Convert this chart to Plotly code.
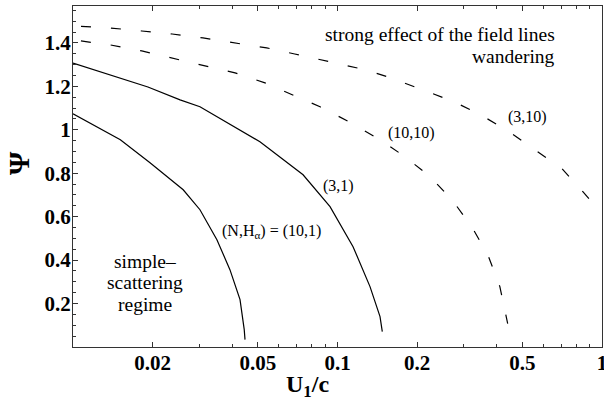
import plotly.graph_objects as go

# ---- data ----
x_10_1 = [0.01, 0.0151, 0.01955, 0.0261, 0.0302, 0.0350, 0.0392, 0.0428, 0.0444, 0.0447]
y_10_1 = [1.074, 0.954, 0.848, 0.724, 0.632, 0.494, 0.356, 0.218, 0.080, 0.034]

x_3_1 = [0.01, 0.0192, 0.0254, 0.0302, 0.0509, 0.0741, 0.0937, 0.1145, 0.1327, 0.1448, 0.1477]
y_3_1 = [1.307, 1.197, 1.138, 1.106, 0.945, 0.793, 0.646, 0.462, 0.278, 0.140, 0.071]

x_10_10 = [0.01, 0.0138, 0.0182, 0.0237, 0.031, 0.041, 0.0532, 0.0679, 0.0859, 0.111,
           0.1448, 0.180, 0.224, 0.271, 0.322, 0.370, 0.411, 0.440]
y_10_10 = [1.414, 1.391, 1.363, 1.331, 1.299, 1.262, 1.216, 1.161, 1.106, 1.036,
           0.954, 0.876, 0.784, 0.678, 0.553, 0.425, 0.278, 0.108]

x_3_10 = [0.01, 0.0138, 0.0182, 0.0237, 0.031, 0.041, 0.054, 0.0689, 0.128, 0.159,
          0.209, 0.271, 0.343, 0.441, 0.558, 0.706, 0.848, 1.0]
y_3_10 = [1.478, 1.469, 1.455, 1.441, 1.423, 1.400, 1.377, 1.349, 1.276, 1.239,
          1.184, 1.133, 1.073, 0.995, 0.908, 0.821, 0.714, 0.613]

x_tick_vals = [0.02, 0.05, 0.1, 0.2, 0.5, 1]
x_tick_text = ["0.02", "0.05", "0.1", "0.2", "0.5", "1"]
x_minor_vals = [0.01, 0.03, 0.04, 0.06, 0.07, 0.08, 0.09, 0.3, 0.4, 0.6, 0.7, 0.8, 0.9]
y_tick_vals = [0.2, 0.4, 0.6, 0.8, 1.0, 1.2, 1.4]
y_tick_text = ["0.2", "0.4", "0.6", "0.8", "1", "1.2", "1.4"]
y_minor_vals = [0.05, 0.1, 0.15, 0.25, 0.3, 0.35, 0.45, 0.5, 0.55, 0.65, 0.7, 0.75,
                0.85, 0.9, 0.95, 1.05, 1.1, 1.15, 1.25, 1.3, 1.35, 1.45, 1.5, 1.55]

SERIF = "Liberation Serif"
DASH = "0px,8px,10px,12px"

fig = go.Figure()
line_solid = dict(color="black", width=1.2)
line_dash = dict(color="black", width=1.2, dash=DASH)
fig.add_trace(go.Scatter(x=x_10_1, y=y_10_1, mode="lines", line=line_solid, showlegend=False))
fig.add_trace(go.Scatter(x=x_3_1, y=y_3_1, mode="lines", line=line_solid, showlegend=False))
fig.add_trace(go.Scatter(x=x_10_10, y=y_10_10, mode="lines", line=line_dash, showlegend=False))
fig.add_trace(go.Scatter(x=x_3_10, y=y_3_10, mode="lines", line=line_dash, showlegend=False))

fig.update_xaxes(
    type="log", range=[-2, 0], automargin=False,
    tickmode="array", tickvals=x_tick_vals, ticktext=x_tick_text,
    ticks="inside", ticklen=5, tickwidth=1, tickcolor="#333",
    minor=dict(tickmode="array", tickvals=x_minor_vals, ticks="inside", ticklen=3,
               tickcolor="#333", showgrid=False),
    showline=True, linecolor="#333", linewidth=1, mirror="ticks",
    showgrid=False, zeroline=False, ticklabelstandoff=-3,
    ticklabeloverflow="allow",
    tickfont=dict(family=SERIF, size=21, color="black", weight="bold"),
)
fig.update_yaxes(
    range=[0, 1.57], automargin=False,
    tickmode="array", tickvals=y_tick_vals, ticktext=y_tick_text,
    ticks="inside", ticklen=5, tickwidth=1, tickcolor="#333",
    minor=dict(tickmode="array", tickvals=y_minor_vals, ticks="inside", ticklen=3,
               tickcolor="#333", showgrid=False),
    showline=True, linecolor="#333", linewidth=1, mirror=True,
    showgrid=False, zeroline=False, ticklabelstandoff=-3,
    tickfont=dict(family=SERIF, size=21, color="black", weight="bold"),
)

ann_font = dict(family=SERIF, size=19.5, color="black")
lab_font = dict(family=SERIF, size=16, color="black")
annotations = [
    dict(x=-0.170, y=1.437, text="strong effect of the field lines", xanchor="right", font=ann_font),
    dict(x=-0.170, y=1.336, text="wandering", xanchor="right", font=ann_font),
    dict(x=-0.2835, y=1.06, text="(3,10)", font=lab_font),
    dict(x=-0.722, y=0.986, text="(10,10)", font=lab_font),
    dict(x=-0.998, y=0.743, text="(3,1)", font=lab_font),
    dict(x=-1.251, y=0.531, text="(N,H<sub>α</sub>) = (10,1)", font=lab_font),
    dict(x=-1.728, y=0.393, text="simple–", font=ann_font),
    dict(x=-1.728, y=0.297, text="scattering", font=ann_font),
    dict(x=-1.728, y=0.195, text="regime", font=ann_font),
]
for a in annotations:
    a.update(xref="x", yref="y", showarrow=False, yanchor="middle")
    fig.add_annotation(**a)

fig.add_annotation(xref="paper", yref="paper", x=0.444, y=0, yshift=-39,
                   xanchor="center", yanchor="middle",
                   text="<b>U<sub>1</sub>/c</b>", showarrow=False,
                   font=dict(family=SERIF, size=24, color="black"))
fig.add_annotation(xref="paper", yref="paper", x=-0.102, y=0.54, textangle=-90,
                   xanchor="center", yanchor="middle",
                   text="<b>Ψ</b>", showarrow=False,
                   font=dict(family=SERIF, size=30, color="black"))

fig.update_layout(
    width=604, height=408,
    margin=dict(l=73, r=2, t=6, b=61),
    plot_bgcolor="white", paper_bgcolor="white",
)
fig.write_html("out.html", config={"displayModeBar": False},
               post_script="document.body.style.margin='0';document.body.style.overflow='hidden';")
